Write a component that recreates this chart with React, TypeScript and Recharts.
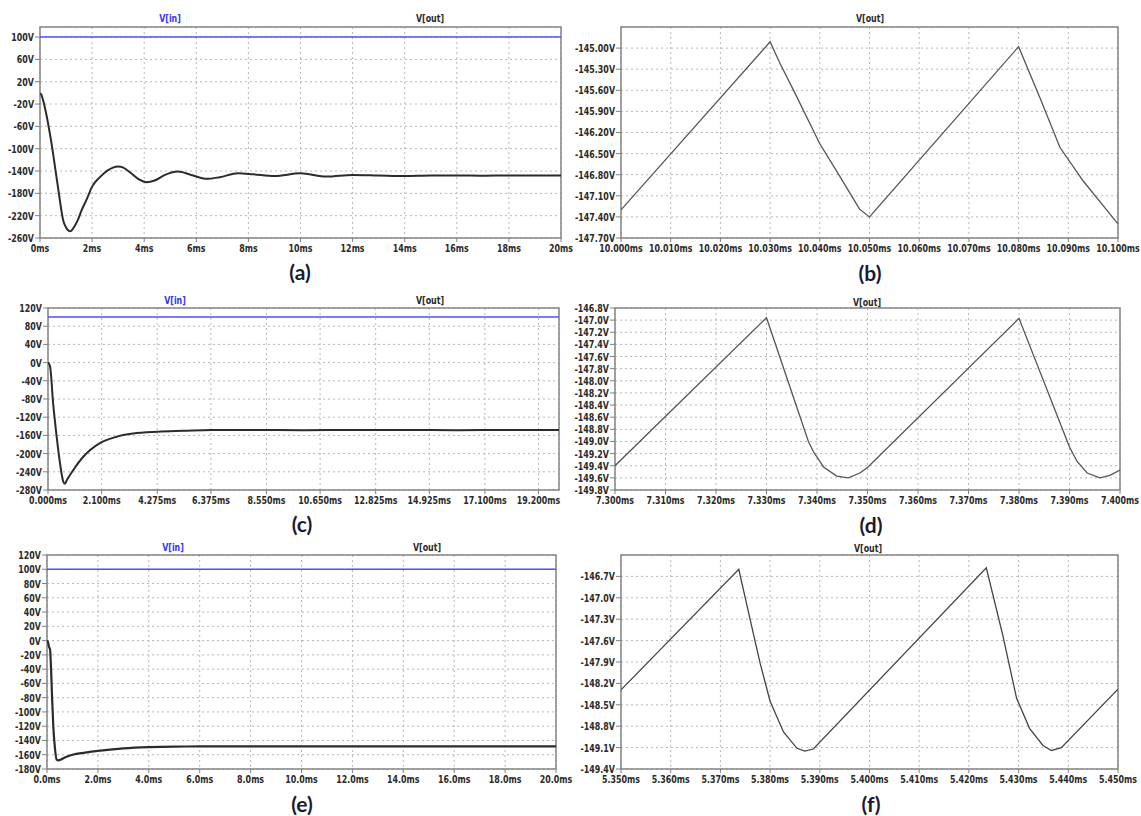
import React from "react";
import {
  LineChart,
  Line,
  XAxis,
  YAxis,
  CartesianGrid,
  ReferenceArea,
} from "recharts";

// (a) transient, 0..20ms
const aTime = [0, 0.05, 0.13, 0.25, 0.38, 0.5, 0.58, 0.7, 0.77, 0.9, 1.0, 1.08, 1.15, 1.22, 1.3, 1.45, 1.6, 1.8, 2.0, 2.3, 2.6, 2.8, 3.0, 3.2, 3.5, 3.8, 4.1, 4.4, 4.8, 5.3, 5.8, 6.4, 6.9, 7.6, 8.2, 9.0, 10.0, 11.0, 12, 13, 14, 15, 16, 17, 18, 19, 20];
const aOut = [-1, -3, -15, -40, -73, -108, -134, -172, -195, -230, -241, -246, -248, -246, -241, -228, -210, -190, -168, -151, -139, -134, -132, -134, -144, -155, -160, -157, -147, -141, -147, -154, -151, -144, -146, -149, -144, -150, -147, -148, -149, -148, -148, -148.5, -148, -148, -148];
const aXTicks = [0, 2, 4, 6, 8, 10, 12, 14, 16, 18, 20];
const aYTicks = [100, 60, 20, -20, -60, -100, -140, -180, -220, -260];

// (b) zoom 10.000..10.100ms
const bTime = [10.0, 10.03, 10.032, 10.035, 10.04, 10.044, 10.048, 10.05, 10.08, 10.0845, 10.0883, 10.093, 10.1];
const bOut = [-147.3, -144.91, -145.22, -145.64, -146.36, -146.82, -147.29, -147.4, -144.98, -145.74, -146.41, -146.89, -147.5];
const bXTicks = [10.0, 10.01, 10.02, 10.03, 10.04, 10.05, 10.06, 10.07, 10.08, 10.09, 10.1];
const bYTicks = [-145.0, -145.3, -145.6, -145.9, -146.2, -146.5, -146.8, -147.1, -147.4, -147.7];

// (c) transient, 0..20ms
const cTime = [0, 0.08, 0.2, 0.34, 0.47, 0.6, 0.66, 0.75, 0.99, 1.38, 2.03, 2.68, 3.33, 4.3, 5.3, 6.4, 8, 10, 12, 14, 16, 18, 20];
const cOut = [0, -8, -89, -163, -221, -262, -266, -257, -236, -207, -177, -163, -156, -152, -150, -148, -148, -148.5, -148, -148, -148.5, -148, -148];
const cXTicks = [0, 2.1, 4.275, 6.375, 8.55, 10.65, 12.825, 14.925, 17.1, 19.2];
const cYTicks = [120, 80, 40, 0, -40, -80, -120, -160, -200, -240, -280];

// (d) zoom 7.300..7.400ms
const dTime = [7.3, 7.33, 7.3383, 7.3393, 7.3413, 7.3439, 7.3462, 7.3485, 7.35, 7.38, 7.39, 7.3915, 7.3935, 7.396, 7.398, 7.4];
const dOut = [-149.4, -146.96, -149.0, -149.17, -149.42, -149.57, -149.6, -149.52, -149.43, -146.97, -149.09, -149.33, -149.52, -149.6, -149.56, -149.47];
const dXTicks = [7.3, 7.31, 7.32, 7.33, 7.34, 7.35, 7.36, 7.37, 7.38, 7.39, 7.4];
const dYTicks = [-146.8, -147.0, -147.2, -147.4, -147.6, -147.8, -148.0, -148.2, -148.4, -148.6, -148.8, -149.0, -149.2, -149.4, -149.6, -149.8];

// (e) transient, 0..20ms
const eTime = [0, 0.04, 0.08, 0.12, 0.16, 0.2, 0.25, 0.31, 0.38, 0.45, 0.7, 1.0, 1.5, 2.0, 3.0, 4.0, 5.0, 6.0, 8.0, 10, 12, 14, 16, 18, 20];
const eOut = [0, -2, -9, -12, -40, -80, -122, -150, -167, -168, -164, -160, -157, -154.5, -151, -149.2, -148.5, -148.4, -148.4, -148.4, -148.4, -148.4, -148.4, -148.4, -148.4];
const eXTicks = [0, 2, 4, 6, 8, 10, 12, 14, 16, 18, 20];
const eYTicks = [120, 100, 80, 60, 40, 20, 0, -20, -40, -60, -80, -100, -120, -140, -160, -180];

// (f) zoom 5.350..5.450ms
const fTime = [5.35, 5.3737, 5.376, 5.378, 5.38, 5.3827, 5.3854, 5.387, 5.3887, 5.4235, 5.4268, 5.4296, 5.4322, 5.4349, 5.4366, 5.4386, 5.45];
const fOut = [-148.29, -146.6, -147.31, -147.92, -148.45, -148.88, -149.11, -149.15, -149.12, -146.58, -147.52, -148.41, -148.83, -149.07, -149.14, -149.1, -148.28];
const fXTicks = [5.35, 5.36, 5.37, 5.38, 5.39, 5.4, 5.41, 5.42, 5.43, 5.44, 5.45];
const fYTicks = [-146.7, -147.0, -147.3, -147.6, -147.9, -148.2, -148.5, -148.8, -149.1, -149.4];

// V[in] is a flat 100V source
const vinTime = [0, 20];
const vinValue = [100, 100];

const rows = (t: number[], v: number[]) => t.map((x, i) => ({ t: x, v: v[i] }));

const FONT = "'DejaVu Sans Condensed', 'DejaVu Sans', sans-serif";
const SQUEEZE = 0.8;

// LTspice-style narrow bold tick text
const makeTick = (fmt: (v: number) => string, side: "x" | "y") => (props: any) => {
  const { x, y, payload } = props;
  return (
    <g transform={`translate(${x},${y}) scale(${SQUEEZE},1)`}>
      <text
        x={0}
        y={0}
        dy={side === "x" ? "0.75em" : "0.36em"}
        textAnchor={side === "x" ? "middle" : "end"}
        fontFamily={FONT}
        fontSize={11}
        fontWeight={700}
        fill="#2a2a2a"
      >
        {fmt(payload.value)}
      </text>
    </g>
  );
};

type PanelProps = {
  left: number;
  top: number;
  width: number;
  height: number;
  plot: { x0: number; x1: number; y0: number; y1: number };
  xDomain: [number, number];
  yDomain: [number, number];
  xTicks: number[];
  yTicks: number[];
  xFmt: (v: number) => string;
  yFmt: (v: number) => string;
  out: { t: number; v: number }[];
  outWidth: number;
  outColor: string;
  curve: "linear" | "monotone";
  showVin: boolean;
};

const Panel = (p: PanelProps) => {
  const yW = p.plot.x0 - p.left;
  const mRight = p.left + p.width - p.plot.x1;
  const mTop = p.plot.y0 - p.top;
  const xH = p.top + p.height - p.plot.y1;
  return (
    <div style={{ position: "absolute", left: p.left, top: p.top }}>
      <LineChart
        width={p.width}
        height={p.height}
        margin={{ top: mTop, right: mRight, left: 0, bottom: 0 }}
      >
        <CartesianGrid strokeDasharray="2 3" stroke="#b8b8b8" />
        <XAxis
          dataKey="t"
          type="number"
          domain={p.xDomain}
          ticks={p.xTicks}
          interval={0}
          height={xH}
          tickSize={4}
          tickMargin={2}
          axisLine={false}
          tickLine={{ stroke: "#808080" }}
          tick={makeTick(p.xFmt, "x")}
          allowDataOverflow
        />
        <YAxis
          type="number"
          domain={p.yDomain}
          ticks={p.yTicks}
          interval={0}
          width={yW}
          tickSize={5}
          tickMargin={1}
          axisLine={false}
          tickLine={{ stroke: "#808080" }}
          tick={makeTick(p.yFmt, "y")}
          allowDataOverflow
        />
        <ReferenceArea
          x1={p.xDomain[0]}
          x2={p.xDomain[1]}
          y1={p.yDomain[0]}
          y2={p.yDomain[1]}
          fill="none"
          stroke="#858585"
          strokeWidth={1.5}
          ifOverflow="visible"
        />
        {p.showVin && (
          <Line
            data={rows(vinTime, vinValue)}
            dataKey="v"
            type="linear"
            stroke="#4f4fff"
            strokeWidth={1.5}
            dot={false}
            isAnimationActive={false}
          />
        )}
        <Line
          data={p.out}
          dataKey="v"
          type={p.curve}
          stroke={p.outColor}
          strokeWidth={p.outWidth}
          dot={false}
          isAnimationActive={false}
        />
      </LineChart>
    </div>
  );
};

const Caption = ({ x, y, text, color }: { x: number; y: number; text: string; color: string }) => (
  <div
    style={{
      position: "absolute",
      left: x,
      top: y,
      transform: `translate(-50%, -50%) scale(${SQUEEZE},1)`,
      fontFamily: FONT,
      fontSize: 11,
      fontWeight: 700,
      color,
      whiteSpace: "nowrap",
    }}
  >
    {text}
  </div>
);

const Tag = ({ x, y, text }: { x: number; y: number; text: string }) => (
  <div
    style={{
      position: "absolute",
      left: x,
      top: y,
      transform: "translate(-50%, -50%)",
      fontFamily: "Lato, 'Open Sans', sans-serif",
      fontSize: 21,
      fontWeight: 700,
      color: "#1a1a33",
      whiteSpace: "nowrap",
      lineHeight: 1,
    }}
  >
    {text}
  </div>
);

const intV = (v: number) => `${v}V`;
const ms0 = (v: number) => `${v}ms`;
const ms1 = (v: number) => `${v.toFixed(1)}ms`;
const ms3 = (v: number) => `${v.toFixed(3)}ms`;

export default function App() {
  return (
    <div
      style={{
        position: "absolute",
        left: 0,
        top: 0,
        width: 1141,
        height: 816,
        overflow: "hidden",
        background: "#fff",
      }}
    >
      <Panel
        left={0} top={0} width={600} height={265}
        plot={{ x0: 40, x1: 561, y0: 27, y1: 238 }}
        xDomain={[0, 20]} yDomain={[-260, 118]}
        xTicks={aXTicks} yTicks={aYTicks}
        xFmt={ms0} yFmt={intV}
        out={rows(aTime, aOut)} outWidth={2} outColor="#2b2b2b" curve="monotone" showVin
      />
      <Panel
        left={560} top={0} width={581} height={265}
        plot={{ x0: 621, x1: 1118, y0: 27, y1: 238 }}
        xDomain={[10.0, 10.1]} yDomain={[-147.7, -144.7]}
        xTicks={bXTicks} yTicks={bYTicks}
        xFmt={ms3} yFmt={(v) => `${v.toFixed(2)}V`}
        out={rows(bTime, bOut)} outWidth={1.3} outColor="#555" curve="linear" showVin={false}
      />
      <Panel
        left={0} top={280} width={600} height={230}
        plot={{ x0: 48, x1: 559, y0: 308, y1: 490 }}
        xDomain={[0, 20]} yDomain={[-280, 120]}
        xTicks={cXTicks} yTicks={cYTicks}
        xFmt={ms3} yFmt={intV}
        out={rows(cTime, cOut)} outWidth={2} outColor="#2b2b2b" curve="monotone" showVin
      />
      <Panel
        left={560} top={280} width={581} height={230}
        plot={{ x0: 615, x1: 1120, y0: 308, y1: 490 }}
        xDomain={[7.3, 7.4]} yDomain={[-149.8, -146.8]}
        xTicks={dXTicks} yTicks={dYTicks}
        xFmt={ms3} yFmt={(v) => `${v.toFixed(1)}V`}
        out={rows(dTime, dOut)} outWidth={1.3} outColor="#555" curve="linear" showVin={false}
      />
      <Panel
        left={0} top={540} width={600} height={250}
        plot={{ x0: 47, x1: 556, y0: 555, y1: 769 }}
        xDomain={[0, 20]} yDomain={[-180, 120]}
        xTicks={eXTicks} yTicks={eYTicks}
        xFmt={ms1} yFmt={intV}
        out={rows(eTime, eOut)} outWidth={2.2} outColor="#2b2b2b" curve="monotone" showVin
      />
      <Panel
        left={560} top={540} width={581} height={250}
        plot={{ x0: 621, x1: 1118, y0: 555, y1: 769 }}
        xDomain={[5.35, 5.45]} yDomain={[-149.4, -146.4]}
        xTicks={fXTicks} yTicks={fYTicks}
        xFmt={ms3} yFmt={(v) => `${v.toFixed(1)}V`}
        out={rows(fTime, fOut)} outWidth={1.3} outColor="#444" curve="linear" showVin={false}
      />

      <Caption x={170} y={18} text="V[in]" color="#3535ff" />
      <Caption x={430} y={18} text="V[out]" color="#2a2a2a" />
      <Caption x={870} y={18} text="V[out]" color="#2a2a2a" />
      <Caption x={175} y={300} text="V[in]" color="#3535ff" />
      <Caption x={430} y={300} text="V[out]" color="#2a2a2a" />
      <Caption x={867} y={302} text="V[out]" color="#2a2a2a" />
      <Caption x={173} y={547} text="V[in]" color="#3535ff" />
      <Caption x={427} y={547} text="V[out]" color="#2a2a2a" />
      <Caption x={868} y={548} text="V[out]" color="#2a2a2a" />

      <Tag x={300} y={271} text="(a)" />
      <Tag x={870} y={272} text="(b)" />
      <Tag x={302} y={523} text="(c)" />
      <Tag x={871} y={524} text="(d)" />
      <Tag x={302} y={803} text="(e)" />
      <Tag x={871} y={803} text="(f)" />
    </div>
  );
}
